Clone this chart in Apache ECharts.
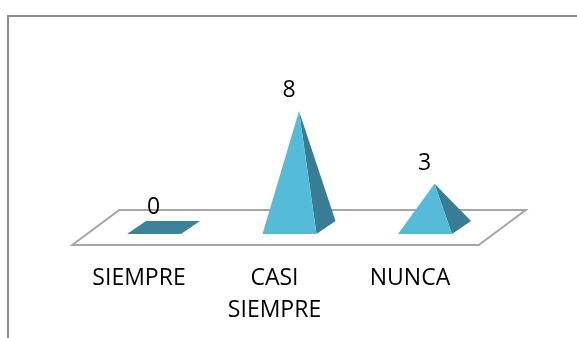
<!DOCTYPE html>
<html>
<head>
<meta charset="utf-8">
<style>html,body{margin:0;padding:0;background:#fff}#c{width:577px;height:338px}</style>
<script src="https://cdn.jsdelivr.net/npm/echarts@6/dist/echarts.min.js"></script>
</head>
<body>
<div id="c"></div>
<script>
var categories = ['SIEMPRE', 'CASI SIEMPRE', 'NUNCA'];
var values = [0, 8, 3];

var FRONT = '#55bbd9', SIDE = '#387d93', FLAT = '#3a8399';
var chart = echarts.init(document.getElementById('c'), null, {renderer: 'canvas'});

function renderFloor(params, api) {
  var y0 = api.coord([0, 0])[1];
  var cs = params.coordSys;
  return {
    type: 'polygon',
    silent: true,
    shape: {points: [
      [cs.x - 23.5, y0 + 17.5], [cs.x + cs.width - 23.5, y0 + 17.5],
      [cs.x + cs.width + 23.5, y0 - 17.5], [cs.x + 23.5, y0 - 17.5]
    ]},
    style: {fill: '#fff', stroke: '#a6a6a6', lineWidth: 2}
  };
}

function renderPyramid(params, api) {
  var val = api.value(1);
  var c = api.coord([api.value(0), 0]);
  var top = api.coord([api.value(0), val]);
  var hw = 36.5, dx = 9.5, dy = 6.5;
  var fl = [c[0] - hw, c[1] + dy], fr = [c[0] + hw - 2 * dx, c[1] + dy];
  var br = [c[0] + hw, c[1] - dy], bl = [c[0] - hw + 2 * dx, c[1] - dy];
  var children = [];
  if (val === 0) {
    children.push({type: 'polygon', shape: {points: [fl, fr, br, bl]}, style: {fill: FLAT}});
  } else {
    children.push({type: 'polygon', shape: {points: [fr, br, top]}, style: {fill: SIDE}});
    children.push({type: 'polygon', shape: {points: [fl, fr, top]}, style: {fill: FRONT}});
  }
  children.push({
    type: 'text',
    style: {
      text: String(val), x: top[0] - 10, y: top[1] - 20.5,
      align: 'center', verticalAlign: 'middle',
      font: '23px "Open Sans"', fill: '#000'
    }
  });
  return {type: 'group', children: children};
}

chart.setOption({
  animation: false,
  grid: {left: 95.75, top: 111, width: 406.5, height: 116.5},
  graphic: [{
    type: 'rect', silent: true, z: -1,
    shape: {x: 8, y: 16, width: 600, height: 360},
    style: {fill: '#fff', stroke: '#8c8c8c', lineWidth: 2}
  }],
  xAxis: {
    type: 'category', data: categories,
    axisLine: {show: false}, axisTick: {show: false}, splitLine: {show: false},
    axisLabel: {
      interval: 0, margin: 35, color: '#000', lineHeight: 32,
      fontFamily: 'Open Sans', fontSize: 23, padding: [0, 49, 0, 0],
      formatter: function (s) { return s.replace(' ', '\n'); }
    }
  },
  yAxis: {type: 'value', min: 0, max: 8, show: false},
  series: [
    {type: 'custom', renderItem: renderFloor, data: [[0, 0]], z: 1, clip: false, silent: true},
    {type: 'custom', renderItem: renderPyramid, data: values.map(function (v, i) { return [i, v]; }), z: 2, clip: false, silent: true}
  ]
});
</script>
</body>
</html>
